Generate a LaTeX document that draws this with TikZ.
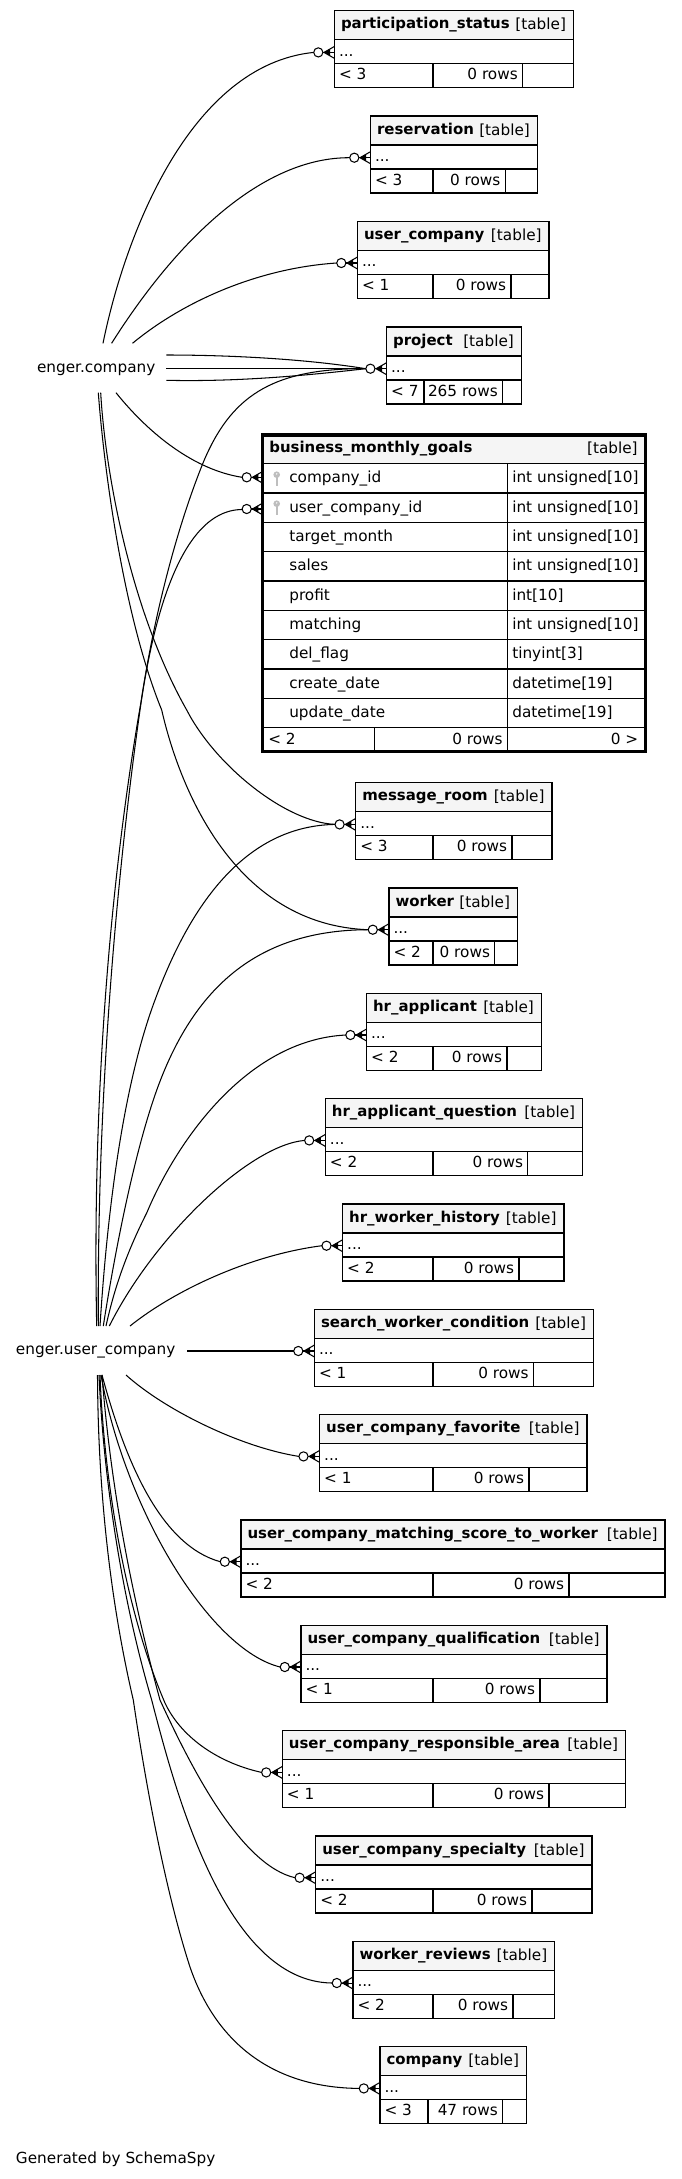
\documentclass[tikz,border=0pt]{standalone}
\usepackage{fontspec}
\setmainfont{DejaVu Sans}
\tikzset{
  boxline/.style={draw=black,line width=1.2pt},
  hdrfill/.style={fill=hdrgray},
  rel/.style={draw=black,line width=1.05pt},
  txt/.style={inner sep=0pt,outer sep=0pt,font=\fontsize{15.28}{18}\selectfont},
  txtl/.style={txt,anchor=base west},
  txtr/.style={txt,anchor=base east},
  titletxt/.style={inner sep=0pt,outer sep=0pt,anchor=base west,font=\fontsize{14.95}{18}\selectfont\bfseries},
  srclabel/.style={txt,anchor=base west},
  keymark/.style={draw=keygray,line width=2.1pt}
}
\definecolor{hdrgray}{HTML}{F5F5F5}
\definecolor{keygray}{HTML}{BEBEBE}
% crow's foot with open circle: #1 = box left edge, #2 = y
\newcommand{\crowodot}[2]{%
  \draw[rel] (#1-12,#2) -- (#1,#2);
  \draw[rel] (#1-10.5,#2) -- (#1,#2-6);
  \draw[rel] (#1-10.5,#2) -- (#1,#2+6);
  \fill[black] (#1-10.5,#2) -- (#1-4.5,#2-3.6) -- (#1-4.5,#2+3.6) -- cycle;
  \draw[rel,fill=white] (#1-16.2,#2) circle (4.6);
}
% id, title, L, R, T, D1, D2, footer-left
\newcommand{\dbtable}[8]{%
  \crowodot{#3}{#5+41.7}
  \coordinate (#1-h) at (#3-20.8,#5+41.7);
  \fill[hdrfill] (#3,#5) rectangle (#4,#5+29);
  \fill[white] (#3,#5+29) rectangle (#4,#5+77);
  \draw[boxline] (#3,#5) rectangle (#4,#5+77);
  \draw[boxline] (#3,#5+29) -- (#4,#5+29);
  \draw[boxline] (#3,#5+53) -- (#4,#5+53);
  \draw[boxline] (#6,#5+53) -- (#6,#5+77);
  \draw[boxline] (#7,#5+53) -- (#7,#5+77);
  \node[titletxt] (#1-title) at (#3+6.5,#5+18.2) {#2};
  \node[txtr] (#1-kind) at (#4-7.4,#5+19.2) {[table]};
  \node[txtl] (#1-dots) at (#3+4.5,#5+45.5) {...};
  \node[txtl] (#1-prev) at (#3+4.5,#5+69) {< #8};
}
\newcommand{\rowcount}[4]{% id, D2, T, text
  \node[txtr] (#1-rows) at (#2-4.8,#3+69) {#4};
}
\newcommand{\bmgrow}[4]{% id, row top, name, type
  \node[txtl] (#1-n) at (289.3,#2+19) {#3};
  \node[txtl] (#1-t) at (512.3,#2+19) {#4};
}
\newcommand{\keyicon}[1]{%
  \fill[keygray] (276.7,#1+3) circle (3.3);
  \draw[keymark] (276.7,#1+3) -- (276.7,#1+14.5);
  \fill[white] (276.7,#1+2.2) circle (0.8);
}
\begin{document}
\begin{tikzpicture}[x=1pt,y=-1pt]
\useasboundingbox (0,0) rectangle (681,2179);
\fill[white] (0,0) rectangle (681,2179);

% source labels
\node[srclabel] (ec) at (37,372) {enger.company};
\node[srclabel] (uc) at (16,1354) {enger.user\_company};
\node[srclabel] (gen) at (16,2163.3) {Generated by SchemaSpy};

% tables
\dbtable{ps}{participation\_status}{334.5}{573.4}{10.7}{433}{522.6}{3}
\rowcount{ps}{522.6}{10.7}{0 rows}
\dbtable{res}{reservation}{370.5}{537.3}{116}{433}{505.2}{3}
\rowcount{res}{505.2}{116}{0 rows}
\dbtable{ucm}{user\_company}{357.5}{549}{221.3}{433}{510.9}{1}
\rowcount{ucm}{510.9}{221.3}{0 rows}
\dbtable{prj}{project}{386.6}{521.3}{327}{424}{502.6}{7}
\rowcount{prj}{502.6}{327}{265 rows}
\dbtable{msg}{message\_room}{355.8}{552}{782.7}{433}{512}{3}
\rowcount{msg}{512}{782.7}{0 rows}
\dbtable{wrk}{worker}{389}{517.4}{888}{433}{494.8}{2}
\rowcount{wrk}{494.8}{888}{0 rows}
\dbtable{hra}{hr\_applicant}{366.6}{541.3}{993.3}{433}{507}{2}
\rowcount{hra}{507}{993.3}{0 rows}
\dbtable{hrq}{hr\_applicant\_question}{325.4}{582.5}{1098.7}{433}{527.8}{2}
\rowcount{hrq}{527.8}{1098.7}{0 rows}
\dbtable{hrw}{hr\_worker\_history}{342.7}{563.9}{1204}{433}{519}{2}
\rowcount{hrw}{519}{1204}{0 rows}
\dbtable{swc}{search\_worker\_condition}{314.5}{593.4}{1309.3}{433}{533.5}{1}
\rowcount{swc}{533.5}{1309.3}{0 rows}
\dbtable{ucf}{user\_company\_favorite}{319.7}{586.9}{1414.7}{433}{529}{1}
\rowcount{ucf}{529}{1414.7}{0 rows}
\dbtable{ucs}{user\_company\_matching\_score\_to\_worker}{241}{665}{1520}{433}{569}{2}
\rowcount{ucs}{569}{1520}{0 rows}
\dbtable{ucq}{user\_company\_qualification}{301}{606.9}{1625.3}{433}{540}{1}
\rowcount{ucq}{540}{1625.3}{0 rows}
\dbtable{ucr}{user\_company\_responsible\_area}{282.4}{625.5}{1730.7}{433}{549}{1}
\rowcount{ucr}{549}{1730.7}{0 rows}
\dbtable{ucp}{user\_company\_specialty}{315.8}{592}{1836}{433}{532}{2}
\rowcount{ucp}{532}{1836}{0 rows}
\dbtable{wrv}{worker\_reviews}{353}{554.7}{1941.3}{433}{513}{2}
\rowcount{wrv}{513}{1941.3}{0 rows}
\dbtable{cmp}{company}{380}{526.5}{2046.7}{427.9}{502.6}{3}
\rowcount{cmp}{502.6}{2046.7}{47 rows}

% business_monthly_goals
\crowodot{262.9}{477.3}
\crowodot{262.9}{509}
\coordinate (bmg-h1) at (242.1,477.3);
\coordinate (bmg-h2) at (242.1,509.5);
\fill[hdrfill] (262.3,435) rectangle (645.1,463.7);
\fill[white] (262.3,463.7) rectangle (645.1,751.7);
\foreach \yy in {463.7,493,522.3,551.7,581,610.3,639.7,669,698.3,727.7}
  \draw[boxline] (262.3,\yy) -- (645.1,\yy);
\draw[boxline] (507.7,463.7) -- (507.7,751.7);
\draw[boxline] (374.7,727.7) -- (374.7,751.7);
\draw[black,line width=3.2pt] (262.3,435) rectangle (645.1,751.7);
\node[titletxt] (bmg-title) at (269.3,452.3) {business\_monthly\_goals};
\node[txtr] (bmg-kind) at (637.7,453.3) {[table]};
\keyicon{471.7}
\keyicon{500.7}
\bmgrow{b1}{463.7}{company\_id}{int unsigned[10]}
\bmgrow{b2}{493}{user\_company\_id}{int unsigned[10]}
\bmgrow{b3}{522.3}{target\_month}{int unsigned[10]}
\bmgrow{b4}{551.7}{sales}{int unsigned[10]}
\bmgrow{b5}{581}{profit}{int[10]}
\bmgrow{b6}{610.3}{matching}{int unsigned[10]}
\bmgrow{b7}{639.7}{del\_flag}{tinyint[3]}
\bmgrow{b8}{669}{create\_date}{datetime[19]}
\bmgrow{b9}{698.3}{update\_date}{datetime[19]}
\node[txtl] (bmg-prev) at (268.3,744) {< 2};
\node[txtr] (bmg-rows) at (502.7,744) {0 rows};
\node[txtr] (bmg-next) at (638.3,744) {0 >};

% tails of enger.company
\coordinate (ec-a) at (103,343.3);
\coordinate (ec-b) at (111.6,343.3);
\coordinate (ec-c) at (132.5,343.3);
\coordinate (ec-d) at (166.4,355);
\coordinate (ec-e) at (166.4,368.7);
\coordinate (ec-f) at (166.4,380.3);
\coordinate (ec-g) at (116,392.7);
\coordinate (ec-h) at (100.7,392.7);
\coordinate (ec-i) at (98.3,392.7);
% tails of enger.user_company, upward
\coordinate (uc-a) at (96.7,1326);
\coordinate (uc-b) at (98.3,1326);
\coordinate (uc-c) at (100,1326);
\coordinate (uc-d) at (103.3,1326);
\coordinate (uc-e) at (106,1326);
\coordinate (uc-f) at (109.3,1326);
\coordinate (uc-g) at (130,1326);
\coordinate (uc-s) at (187,1351);
% tails of enger.user_company, downward
\coordinate (uc-m) at (126,1375);
\coordinate (uc-n) at (102,1375);
\coordinate (uc-o) at (101,1375);
\coordinate (uc-p) at (100,1375);
\coordinate (uc-q) at (102,1375);
\coordinate (uc-r) at (99,1375);
\coordinate (uc-t) at (97.5,1375);

% enger.company connectors
\draw[rel] (ec-a) .. controls (125,235) and (190,65) .. (ps-h);
\draw[rel] (ec-b) .. controls (180,235) and (265,157.3) .. (res-h);
\draw[rel] (ec-c) .. controls (185,300) and (260,268) .. (ucm-h);
\draw[rel] (ec-d) .. controls (220,355) and (300,358) .. (prj-h);
\draw[rel] (ec-e) -- (prj-h);
\draw[rel] (ec-f) .. controls (240,382) and (310,375) .. (prj-h);
\draw[rel] (ec-g) .. controls (150,435) and (195,470) .. (bmg-h1);
\draw[rel] (ec-h) .. controls (105,470) and (130,610) .. (186.7,710)
   .. controls (215,765) and (285,822) .. (msg-h);
\draw[rel] (ec-i) .. controls (105,480) and (125,620) .. (161.7,710)
   .. controls (180,790) and (235,925) .. (wrk-h);

% enger.user_company connectors, upward
\draw[rel] (uc-a) .. controls (92,1100) and (110,880) .. (141,702)
   .. controls (155,610) and (178,525) .. (203,463)
   .. controls (230,398) and (270,368) .. (prj-h);
\draw[rel] (uc-b) .. controls (97,1100) and (116,880) .. (140,710)
   .. controls (150,640) and (175,510) .. (bmg-h2);
\draw[rel] (uc-c) .. controls (108,1200) and (125,1080) .. (155,1000)
   .. controls (190,905) and (245,826) .. (msg-h);
\draw[rel] (uc-d) .. controls (112,1270) and (130,1170) .. (153.3,1100)
   .. controls (190,990) and (255,930) .. (wrk-h);
\draw[rel] (uc-e) .. controls (115,1285) and (128,1250) .. (146.7,1213)
   .. controls (175,1145) and (245,1040) .. (hra-h);
\draw[rel] (uc-f) .. controls (155,1235) and (250,1145) .. (hrq-h);
\draw[rel] (uc-g) .. controls (175,1290) and (250,1255) .. (hrw-h);
\draw[rel] (uc-s) -- (swc-h);

% enger.user_company connectors, downward
\draw[rel] (uc-m) .. controls (165,1410) and (240,1447) .. (ucf-h);
\draw[rel] (uc-n) .. controls (125,1460) and (160,1545) .. (ucs-h);
\draw[rel] (uc-o) .. controls (125,1510) and (210,1650) .. (ucq-h);
\draw[rel] (uc-p) .. controls (104,1480) and (125,1610) .. (165,1703)
   .. controls (180,1735) and (215,1762) .. (ucr-h);
\draw[rel] (uc-q) .. controls (110,1480) and (130,1590) .. (160,1700)
   .. controls (190,1765) and (240,1865) .. (ucp-h);
\draw[rel] (uc-r) .. controls (104,1490) and (125,1610) .. (151.7,1700)
   .. controls (175,1790) and (225,1982) .. (wrv-h);
\draw[rel] (uc-t) .. controls (98,1490) and (110,1600) .. (133.3,1700)
   .. controls (145,1780) and (165,1890) .. (190,1967)
   .. controls (215,2040) and (270,2087.7) .. (cmp-h);
\end{tikzpicture}
\end{document}
